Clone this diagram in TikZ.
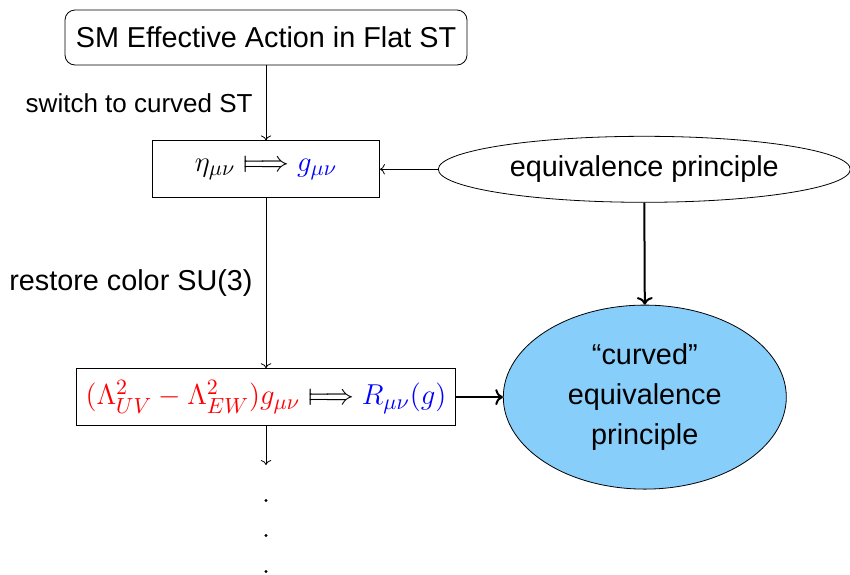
\documentclass[tikz,border=0pt]{standalone}
\usepackage{amsmath}
\usepackage{stmaryrd}
\usepackage[no-math]{fontspec}
\setmainfont{Liberation Sans}
\usepackage{xcolor}
\usetikzlibrary{arrows.meta, positioning, shapes.geometric}
\definecolor{skyFill}{RGB}{135,206,250}

\begin{document}
\begin{tikzpicture}[
    x=0.5pt, y=-0.5pt,
    font=\fontsize{14.4}{17}\selectfont,
    boxRound/.style={
        rectangle,
        rounded corners=5pt,
        draw,
        minimum width=201pt,
        minimum height=27.5pt,
        inner sep=2pt
    },
    boxPlain/.style={
        rectangle,
        draw,
        minimum height=28.5pt,
        inner sep=2pt,
        font=\fontsize{15}{18}\selectfont
    },
    ellWhite/.style={
        ellipse,
        draw,
        minimum width=206pt,
        minimum height=33pt,
        inner sep=1pt
    },
    ellBlue/.style={
        ellipse,
        draw,
        fill=skyFill,
        minimum width=141.5pt,
        minimum height=92pt,
        inner sep=1pt,
        align=center,
        font=\fontsize{14.4}{20}\selectfont
    },
    dotMark/.style={
        circle,
        fill,
        inner sep=0pt,
        minimum size=1.6pt
    },
    edgeLabel/.style={
        left,
        inner sep=6.5pt
    }
]
\useasboundingbox (0,0) rectangle (850,574);

% Ligne 1
\node[boxRound] (sm) at (266,37.5) {SM Effective Action in Flat ST};

% Ligne 2
\node[boxPlain, minimum width=113.5pt, below=37.5pt of sm] (metric)
    {$\eta_{\mu\nu} \Longmapsto \textcolor{blue}{g_{\mu\nu}}$};
\node[ellWhite, right=29pt of metric] (ep) {equivalence principle};

% Ligne 3
\node[boxPlain, minimum width=189.5pt, below=85pt of metric] (curv)
    {$\textcolor{red}{(\Lambda^2_{UV}-\Lambda^2_{EW})g_{\mu\nu}} \Longmapsto \textcolor{blue}{R_{\mu\nu}(g)}$};
\node[ellBlue, right=23.5pt of curv] (cep) {``curved''\\equivalence\\principle};

% suite
\coordinate[below=19.5pt of curv] (cont);
\node[dotMark, below=36.2pt of curv] (d1) {};
\node[dotMark, below=53.7pt of curv] (d2) {};
\node[dotMark, below=71.7pt of curv] (d3) {};

\draw[->] (sm) -- node[edgeLabel, font=\fontsize{13}{15}\selectfont] {switch to curved ST} (metric);
\draw[->] (ep) -- (metric);
\draw[->, line width=1pt] (ep.south) -- (cep.north);
\draw[->] (metric) -- node[edgeLabel] {restore color SU(3)} (curv);
\draw[->, line width=1pt] (curv) -- (cep);
\draw[->] (curv) -- (cont);

\end{tikzpicture}
\end{document}
